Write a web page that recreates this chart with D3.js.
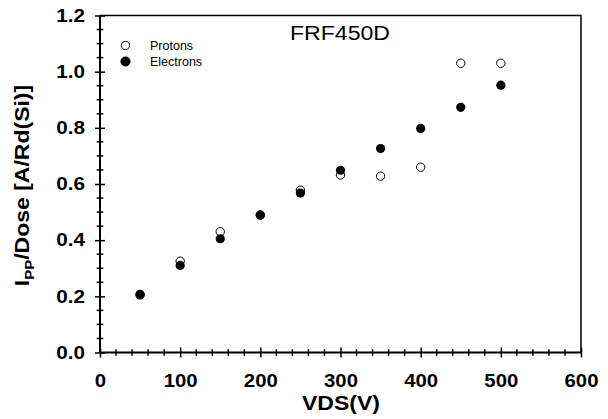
<!DOCTYPE html>
<html>
<head>
<meta charset="utf-8">
<script src="https://cdn.jsdelivr.net/npm/d3@7"></script>
<style>
  body { margin: 0; background: #fff; }
  svg { display: block; font-family: Arial, "Liberation Sans", sans-serif; }
</style>
</head>
<body>
<svg id="vis" width="608" height="419"></svg>
<script>
// data
const vds = [50, 100, 150, 200, 250, 300, 350, 400, 450, 500];
const protons = [0.205, 0.325, 0.43, 0.49, 0.578, 0.632, 0.628, 0.66, 1.03, 1.03];
const electrons = [0.207, 0.31, 0.405, 0.489, 0.568, 0.649, 0.726, 0.798, 0.873, 0.952];

const xMajor = [0, 100, 200, 300, 400, 500, 600];
const yMajor = [0, 0.2, 0.4, 0.6, 0.8, 1.0, 1.2];
const legendNames = ["Protons", "Electrons"];
const chartTitle = "FRF450D";

const svg = d3.select('#vis');

const x = d3.scaleLinear().domain([0, 600]).range([100, 581]);
const y = d3.scaleLinear().domain([0, 1.2]).range([352.5, 15.5]);

// the original's lettering is a bit wider than plain Arial
function widen(sel, k) {
    sel.each(function () {
        d3.select(this)
            .attr('textLength', this.getComputedTextLength() * k)
            .attr('lengthAdjust', 'spacingAndGlyphs');
    });
}

// frame (top and right)
svg.append('path')
    .attr('d', 'M' + x(0) + ',' + y(1.2) + 'H' + x(600) + 'V' + y(0))
    .attr('fill', 'none')
    .attr('stroke', '#000')
    .attr('stroke-width', 1.5);

// y axis
const yAxis = svg.append('g')
    .attr('transform', 'translate(' + x(0) + ',0)')
    .call(d3.axisLeft(y).tickValues(yMajor).tickSize(5).tickPadding(10)
        .tickFormat(d3.format('.1f')));
yAxis.select('.domain').attr('stroke-width', 2).attr('d', 'M0,' + y(0) + 'V' + y(1.2));
yAxis.selectAll('.tick line').attr('x1', -5).attr('x2', 5).attr('stroke-width', 1.5);
yAxis.selectAll('.tick text')
    .attr('font-size', 18).attr('font-weight', 'bold')
    .attr('font-family', 'Arial, "Liberation Sans", sans-serif').attr('fill', '#000')
    .call(widen, 1.15);

// y minor ticks
svg.append('g').selectAll('line')
    .data(d3.range(0, 1.2001, 0.05).filter(function (d) {
        return Math.abs(d * 5 - Math.round(d * 5)) > 1e-6;
    }))
    .enter().append('line')
    .attr('x1', x(0) - 3.3).attr('x2', x(0) + 3.3)
    .attr('y1', function (d) { return y(d); })
    .attr('y2', function (d) { return y(d); })
    .attr('stroke', '#000').attr('stroke-width', 1.5);

// x axis
const xAxis = svg.append('g')
    .attr('transform', 'translate(0,' + y(0) + ')')
    .call(d3.axisBottom(x).tickValues(xMajor).tickSize(5).tickFormat(d3.format('d')));
xAxis.select('.domain').attr('stroke-width', 2).attr('d', 'M' + x(0) + ',0H' + x(600));
xAxis.selectAll('.tick line').attr('y1', -5).attr('y2', 5).attr('stroke-width', 1.5);
xAxis.selectAll('.tick text')
    .attr('y', 34.5).attr('dy', 0)
    .attr('font-size', 18).attr('font-weight', 'bold')
    .attr('font-family', 'Arial, "Liberation Sans", sans-serif').attr('fill', '#000')
    .call(widen, 1.13);

// x minor ticks
svg.append('g').selectAll('line')
    .data(d3.range(0, 600, 20).filter(function (d) { return d % 100 !== 0; }))
    .enter().append('line')
    .attr('x1', function (d) { return x(d); })
    .attr('x2', function (d) { return x(d); })
    .attr('y1', y(0) - 3.3).attr('y2', y(0) + 3.3)
    .attr('stroke', '#000').attr('stroke-width', 1.5);

// axis titles
svg.append('text')
    .attr('x', 341).attr('y', 410)
    .attr('text-anchor', 'middle')
    .attr('font-size', 20).attr('font-weight', 'bold')
    .attr('textLength', 78).attr('lengthAdjust', 'spacingAndGlyphs')
    .text('VDS(V)');

const yTitle = svg.append('text')
    .attr('transform', 'translate(29,185.5) rotate(-90) scale(1.15,1)')
    .attr('text-anchor', 'middle')
    .attr('font-size', 20).attr('font-weight', 'bold');
yTitle.append('tspan').text('I');
yTitle.append('tspan').attr('font-size', 13).attr('dy', 5).text('PP');
yTitle.append('tspan').attr('dy', -5).text('/Dose [A/Rd(Si)]');

// chart title
svg.append('text')
    .attr('x', 290).attr('y', 39.5)
    .attr('font-size', 20)
    .attr('textLength', 100).attr('lengthAdjust', 'spacingAndGlyphs')
    .text(chartTitle);

// points: protons (open) under electrons (filled)
svg.append('g').selectAll('circle')
    .data(vds)
    .enter().append('circle')
    .attr('cx', function (d) { return x(d); })
    .attr('cy', function (d, i) { return y(protons[i]); })
    .attr('r', 4.2)
    .attr('fill', '#fff').attr('stroke', '#000').attr('stroke-width', 1);

svg.append('g').selectAll('circle')
    .data(vds)
    .enter().append('circle')
    .attr('cx', function (d) { return x(d); })
    .attr('cy', function (d, i) { return y(electrons[i]); })
    .attr('r', 4.6)
    .attr('fill', '#000');

// legend
const legend = svg.append('g').selectAll('g')
    .data(legendNames)
    .enter().append('g')
    .attr('transform', function (d, i) { return 'translate(125.5,' + (45.5 + i * 16) + ')'; });

legend.append('circle')
    .attr('r', function (d, i) { return i === 0 ? 4.2 : 4.6; })
    .attr('fill', function (d, i) { return i === 0 ? '#fff' : '#000'; })
    .attr('stroke', '#000').attr('stroke-width', 1);

legend.append('text')
    .attr('x', 24.5).attr('y', 4.5)
    .attr('font-size', 12.5)
    .text(function (d) { return d; });
</script>
</body>
</html>
